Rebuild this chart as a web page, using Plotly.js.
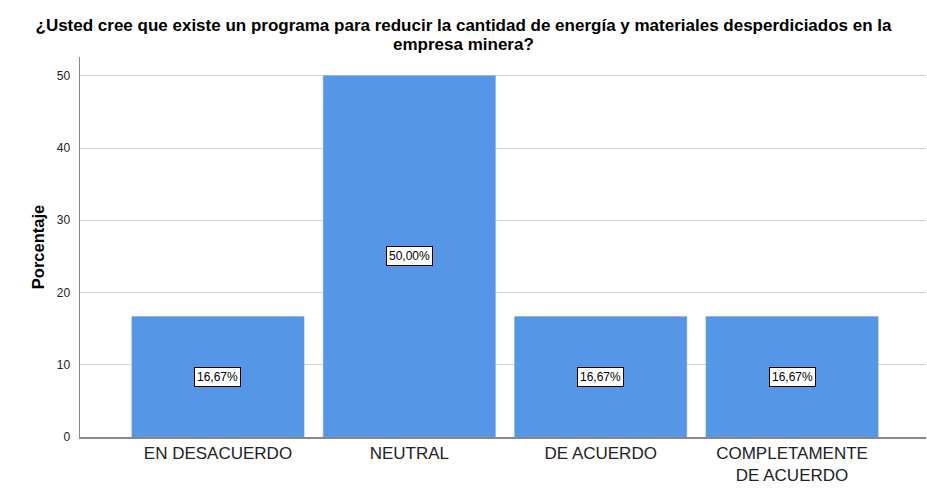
<!DOCTYPE html>
<html>
<head>
<meta charset="utf-8">
<script src="https://cdn.plot.ly/plotly-3.0.1.min.js"></script>
<style>html,body{margin:0;padding:0;background:#fff;}#chart{width:927px;height:497px;}</style>
</head>
<body>
<div id="chart"></div>
<script>
const categories = ["EN DESACUERDO", "NEUTRAL", "DE ACUERDO", "COMPLETAMENTE<br>DE ACUERDO"];
const values = [16.67, 50.00, 16.67, 16.67];
const valueLabels = ["16,67%", "50,00%", "16,67%", "16,67%"];
const yTicks = [0, 10, 20, 30, 40, 50];
const titleLine1 = "¿Usted cree que existe un programa para reducir la cantidad de energía y materiales desperdiciados en la";
const titleLine2 = "empresa minera?";

const FONT = "Liberation Sans, Arial, sans-serif";
const idx = categories.map((c, i) => i);
const trace = {
  type: "bar",
  x: idx,
  y: values,
  marker: {color: "#5596e6", line: {color: "#6fa6ea", width: 0.5}},
  hoverinfo: "none"
};
const annotations = values.map((v, i) => ({
  x: i, y: v / 2, xref: "x", yref: "y",
  text: valueLabels[i], showarrow: false,
  font: {family: FONT, size: 12, color: "#000"},
  bgcolor: "#ffffff", bordercolor: "#000000", borderwidth: 1, borderpad: 2
}));
annotations.push({
  xref: "paper", yref: "paper", x: (463 - 80) / 846, y: 1 + (57 - 44) / 380,
  xanchor: "center", yanchor: "middle",
  text: "<b>" + titleLine2 + "</b>", showarrow: false,
  font: {family: FONT, size: 17, color: "#000"}
});
const layout = {
  width: 927, height: 497,
  margin: {l: 80, r: 1, t: 57, b: 60},
  paper_bgcolor: "#ffffff", plot_bgcolor: "#ffffff",
  bargap: 0.1,
  showlegend: false,
  title: {
    text: "<b>" + titleLine1 + "</b>",
    font: {family: FONT, size: 17, color: "#000"},
    x: 0.5, xanchor: "center", xref: "container",
    yref: "container", y: 1 - 25 / 497, yanchor: "middle"
  },
  xaxis: {
    range: [-0.721, 3.70],
    tickvals: idx, ticktext: categories,
    tickfont: {family: FONT, size: 17, color: "#222"},
    showgrid: false, zeroline: false,
    showline: true, linecolor: "#888", linewidth: 1.5,
    ticks: "", ticklen: 0,
    fixedrange: true
  },
  yaxis: {
    range: [0, 52.6],
    tickvals: yTicks,
    tickfont: {family: FONT, size: 12, color: "#222"},
    showgrid: true, gridcolor: "#d4d4d4", gridwidth: 1,
    zeroline: false,
    showline: true, linecolor: "#888", linewidth: 1.5,
    ticks: "outside", ticklen: 6, tickcolor: "rgba(0,0,0,0)",
    title: {text: "<b>Porcentaje</b>", font: {family: FONT, size: 16.5, color: "#000"}, standoff: 8},
    fixedrange: true
  },
  annotations: annotations
};
Plotly.newPlot("chart", [trace], layout, {displayModeBar: false, staticPlot: true});
</script>
</body>
</html>
